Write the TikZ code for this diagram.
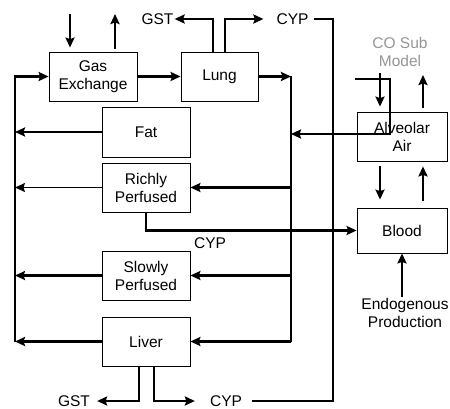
\documentclass[tikz,border=0pt]{standalone}
\usepackage{fontspec}
\setmainfont{Liberation Sans}
\usetikzlibrary{arrows.meta}
\definecolor{subgray}{RGB}{150,150,150}
\tikzset{
  box/.style={draw,line width=0.8pt,minimum width=88pt,minimum height=49pt,align=center,inner sep=0pt},
  lbl/.style={inner sep=1pt,align=center},
  flow/.style={line width=2.3pt,-{Stealth[length=10pt,width=9pt,inset=1.5pt]}},
  plain/.style={line width=2.3pt},
}

\begin{document}
\begin{tikzpicture}[x=1pt,y=-1pt,font=\fontsize{15.5}{18}\selectfont]
    \useasboundingbox (0,0) rectangle (450,409);
    % --- COMPARTMENTS ---
    \node[box] (gasex) at (93,76.5) {Gas\\Exchange};
    \node[box,minimum width=77pt] (lung) at (219.5,76.5) {Lung};
    \node[box,minimum height=50pt] (fat) at (146,132) {Fat};
    \node[box] (rich) at (146,187.5) {Richly\\Perfused};
    \node[box] (slow) at (146,275.5) {Slowly\\Perfused};
    \node[box] (liver) at (146,341.5) {Liver};
    \node[box,minimum width=90pt] (alv) at (402,136.5) {Alveolar\\Air};
    \node[box,minimum width=90pt,minimum height=45pt] (blood) at (402,230.5) {Blood};

    % --- LABELS ---
    \node[lbl] (gstT) at (157.5,19) {GST};
    \node[lbl] (cypT) at (292.5,19) {CYP};
    \node[lbl] (cypM) at (210,243) {CYP};
    \node[lbl] (gstB) at (74,401) {GST};
    \node[lbl] (cypB) at (226,401) {CYP};
    \node[lbl,text=subgray] (cosub) at (400,51.5) {CO Sub\\Model};
    \node[lbl] (endo) at (405,313) {Endogenous\\Production};

    \coordinate (lbus) at (15,0);
    \coordinate (rbus) at (291,0);
    \coordinate (cyploop) at (333,0);
    \coordinate (inA) at (70,14);
    \coordinate (outA) at (115,14);
    \coordinate (alvin) at (355,79);
    \coordinate (alvout) at (390,134);
    \coordinate (coin) at (380,73);
    \coordinate (coout) at (423,75);

    % --- GAS EXCHANGE AND LUNG ---
    \draw[flow,shorten >=4pt] (inA) -- (inA |- gasex.north);
    \draw[flow,shorten <=3pt] (outA |- gasex.north) -- (outA);
    \draw[flow] (gasex) -- (lung);
    \draw[flow] ([xshift=-6.5pt]lung.north) |- (gstT.east);
    \draw[flow] ([xshift=5.5pt]lung.north) |- ([xshift=-12pt]cypT.west);
    \draw[plain] ([xshift=4pt]cypT.east) -| (cyploop |- cypB) -- ([xshift=9pt]cypB.east);

    % --- RIGHT BUS ---
    \draw[flow] (lung.east) -- (lung.east -| rbus);
    \draw[plain] (lung.east -| rbus) -- (liver.east -| rbus);
    \foreach \n in {rich,slow,liver}
        \draw[flow] (\n.east -| rbus) -- (\n.east);

    % --- LEFT BUS ---
    \draw[flow] (lbus |- liver.west) -- (lbus |- gasex.west) -- (gasex.west);
    \foreach \n in {fat,slow,liver}
        \draw[flow] (\n.west) -- (\n.west -| lbus);
    \draw[flow,line width=1.5pt] (rich.west) -- (rich.west -| lbus);

    % --- ALVEOLAR AIR AND BLOOD ---
    \draw[flow] (alvin) -| (alvout) -- (alvout -| rbus);
    \draw[flow,shorten >=5pt] (coin) -- (coin |- alv.north);
    \draw[flow,shorten <=4pt] (coout |- alv.north) -- (coout);
    \draw[flow,shorten <=5pt,shorten >=8pt] (coin |- alv.south) -- (coin |- blood.north);
    \draw[flow,shorten <=7pt,shorten >=5pt] (coout |- blood.north) -- (coout |- alv.south);
    \draw[flow] (blood.south |- endo.north) -- (blood.south);
    \draw[flow] (rich.south) |- (blood.west);

    % --- LIVER METABOLISM ---
    \draw[flow] ([xshift=-7pt]liver.south) |- ([xshift=6pt]gstB.east);
    \draw[flow] ([xshift=8pt]liver.south) |- ([xshift=-14pt]cypB.west);
\end{tikzpicture}
\end{document}
